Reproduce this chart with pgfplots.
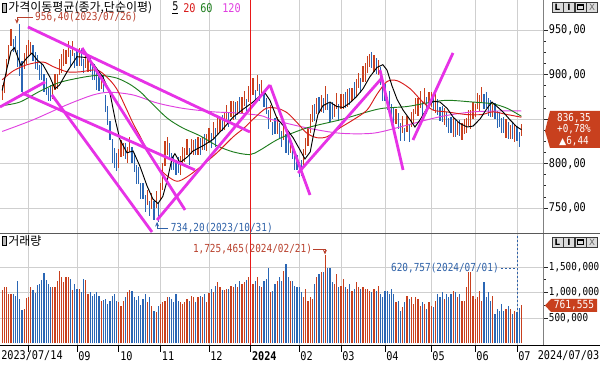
\documentclass[border=0pt]{standalone}
\usepackage{pgfplots}
\pgfplotsset{compat=1.18}
\usepackage{pgfplotstable}
\usepackage{fontspec}
\usetikzlibrary{arrows.meta}
\setmainfont{DejaVu Sans Mono}[FakeStretch=0.85]
\newfontfamily\kr{Noto Sans CJK KR}
\newfontfamily\dv{DejaVu Sans}
\definecolor{upred}{HTML}{C8401E}
\definecolor{dnblue}{HTML}{2A66B4}
\definecolor{mag}{HTML}{E632E6}
\definecolor{maA}{HTML}{D81C1C}
\definecolor{maB}{HTML}{1E7D1E}
\definecolor{maC}{HTML}{E040E0}
\definecolor{anred}{HTML}{B8402C}
\definecolor{anblue}{HTML}{2F62A8}
\definecolor{gridc}{HTML}{CFCFCF}
\definecolor{boxred}{HTML}{C8401E}
\definecolor{yrline}{HTML}{E81818}
\newcommand\annfont{\fontsize{8.3}{9}\selectfont}

\pgfplotstableread{
i c a b u v
0 878 7 10 1 1047
1 890 11 6 1 1110
2 905 6 12 1 1100
3 925 13 8 1 980
4 940 8 11 1 970
5 935 10 5 0 970
6 930 5 13 0 940
7 920 12 7 0 1230
8 912 14 44.4 0 870
9 895 15 20 0 655
10 912 6 12 1 675
11 925 13 8 1 890
12 928 8 11 1 910
13 932 10 5 1 1110
14 920 5 13 0 1050
15 918 12 7 0 985
16 912 7 10 0 1150
17 905 11 6 0 1160
18 900 6 12 0 1245
19 893 13 8 0 1380
20 885 8 11 0 1245
21 880 10 5 0 1165
22 875 5 13 0 1100
23 885 12 7 1 1100
24 890 7 10 1 1100
25 895 11 6 1 1230
26 905 6 12 1 1430
27 915 13 8 1 1300
28 918 8 11 1 1200
29 922 10 5 1 1300
30 925 5 13 1 1300
31 920 12 7 0 1265
32 928 7 10 1 1047
33 918 11 6 0 1165
34 915 6 12 0 1070
35 922 13 8 1 1070
36 918 8 11 0 1000
37 912 10 5 0 1260
38 912 5 13 1 1245
39 915 12 7 1 980
40 910 7 10 0 1000
41 905 11 6 0 940
42 900 6 12 0 970
43 896 13 8 0 1000
44 890 8 11 0 940
45 894 10 5 1 840
46 885 5 13 0 850
47 870 12 7 0 870
48 855 12 10 0 775
49 840 14 8 0 840
50 815 15 12 0 940
51 805 10 12 0 970
52 800 8 12 0 840
53 808 13 8 1 810
54 815 8 11 1 740
55 818 10 5 1 840
56 810 5 13 0 920
57 812 12 7 1 1000
58 820 7 10 1 1050
59 812 11 6 0 1025
60 800 10 12 0 905
61 790 13 8 0 850
62 785 8 11 0 940
63 770 10 8 0 760
64 765 5 13 0 870
65 758 12 7 0 970
66 760 7 10 1 810
67 752 11 6 0 920
68 755 6 12 1 740
69 750 13 8 0 630
70 758 8 11 1 610
71 748 13.8 8 0 740
72 765 6 13 1 775
73 790 20 10 1 810
74 815 18 10 1 840
75 822 12 8 1 905
76 810 5 13 0 920
77 805 12 7 0 870
78 800 7 10 0 810
79 798 11 6 0 970
80 795 6 12 0 840
81 800 13 8 1 810
82 808 8 11 1 775
83 812 10 5 1 810
84 815 5 13 1 870
85 810 12 7 0 840
86 818 7 10 1 940
87 820 11 6 1 905
88 815 6 12 0 810
89 822 13 8 1 905
90 818 8 11 0 940
91 825 10 5 1 920
92 820 5 13 0 970
93 826 12 7 1 810
94 830 7 10 1 985
95 828 11 6 0 1070
96 835 6 12 1 1000
97 832 13 8 0 1130
98 840 8 11 1 1200
99 845 10 5 1 1100
100 842 5 13 0 1040
101 850 12 7 1 1047
102 856 7 10 1 1070
103 852 11 6 0 1070
104 858 6 12 1 1130
105 862 13 8 1 1110
106 858 8 11 0 1165
107 865 10 5 1 1100
108 862 5 13 0 1230
109 868 12 7 1 1165
110 872 7 10 1 1200
111 866 11 6 0 1245
112 875 6 12 1 1300
113 880 13 8 1 1265
114 885 8 11 1 1165
115 878 10 5 0 1230
116 886 5 13 1 1300
117 882 12 7 0 1130
118 884 7 10 1 1100
119 875 11 6 0 1230
120 862 6 12 0 1265
121 852 13 8 0 1490
122 855 8 11 1 1000
123 842 10 5 0 1035
124 838 5 13 0 1165
125 845 12 7 1 1230
126 835 7 10 0 1300
127 830 11 6 0 1230
128 832 6 12 1 1430
129 825 13 8 0 1560
130 818 8 11 0 1300
131 822 10 5 1 1230
132 810 5 13 0 1230
133 805 12 7 0 1130
134 800 7 10 0 1100
135 796 11 6 0 1100
136 792 6 12 0 1000
137 808 13 8 1 905
138 818 8 11 1 1070
139 835 15 6 1 840
140 848 14 8 1 905
141 860 13 6 1 870
142 856 8 11 0 1165
143 866 10 8 1 1300
144 862 5 13 0 1360
145 870 12 7 1 1395
146 864 7 10 0 1400
147 872 12 15 1 1725.465
148 866 6 12 0 1490
149 860 13 8 0 1490
150 858 8 11 0 1200
151 862 10 5 1 1165
152 866 5 13 1 1365
153 860 12 7 0 1100
154 868 7 10 1 1130
155 872 11 6 1 1265
156 868 6 12 0 1100
157 876 13 8 1 1070
158 874 8 11 0 1165
159 880 10 5 1 1035
160 878 5 13 0 1070
161 888 12 7 1 1200
162 892 7 10 1 1100
163 890 11 6 0 1070
164 898 6 12 1 1100
165 905 13 8 1 1070
166 910 8 11 1 1070
167 918 10 5 1 1035
168 912 5 13 0 1000
169 915 12 7 1 1070
170 908 7 10 0 1035
171 910 11 6 1 1130
172 900 12 8 0 970
173 885 15 10 0 905
174 878 8 11 0 1035
175 870 10 5 0 1035
176 868 5 13 0 970
177 860 12 7 0 1070
178 852 7 10 0 970
179 855 11 6 1 810
180 845 6 12 0 840
181 838 13 8 0 640
182 842 8 11 1 710
183 835 10 5 0 810
184 840 5 13 1 940
185 836 12 7 0 870
186 848 7 10 1 905
187 855 11 6 1 775
188 862 6 12 1 905
189 866 13 8 1 870
190 870 8 11 1 740
191 865 10 5 0 810
192 872 5 13 1 775
193 868 12 7 0 680
194 870 7 10 1 810
195 874 11 6 1 740
196 866 6 12 0 710
197 870 13 8 1 840
198 862 8 11 0 970
199 858 10 5 0 905
200 852 5 13 0 1000
201 855 12 7 1 870
202 848 7 10 0 970
203 845 11 6 0 905
204 840 6 12 0 970
205 843 13 8 1 1035
206 838 8 11 0 1000
207 842 10 5 1 905
208 836 5 13 0 970
209 838 12 7 1 840
210 840 7 10 1 840
211 845 11 6 1 1100
212 848 6 12 1 1395
213 852 13 8 1 1400
214 858 8 11 1 940
215 862 10 5 1 870
216 866 5 13 1 905
217 870 12 7 1 1035
218 876 7 10 1 840
219 872 11 6 0 1200
220 868 6 12 0 905
221 866 13 8 0 1000
222 860 8 11 0 840
223 862 10 5 1 940
224 855 5 13 0 580
225 852 12 7 0 675
226 848 7 10 0 640
227 845 11 6 0 775
228 840 6 12 0 640
229 842 13 8 1 675
230 836 8 11 0 740
231 838 10 5 1 675
232 832 5 13 0 580
233 836 12 7 1 640
234 832 7 10 0 620.757
235 829.91 11 6 0 700
236 836.35 6 8 1 761.555
}\pdata

\pgfplotsset{hts/.style={
  scale only axis, width=407.25pt, xmin=-1, xmax=245.8,
  axis line style={draw=none},
  xtick={12,34,53,72,94,135,154,174,195,215,234}, xticklabels={},
  xtick style={draw=none},
  xmajorgrids, ymajorgrids, major grid style={gridc, line width=0.6pt},
  ytick pos=right, yticklabel pos=right, tick align=outside,
  major tick length=3.75pt, minor tick length=2.2pt,
  ytick style={black!85, line width=0.5pt},
  clip mode=individual}}

\begin{document}
\begin{tikzpicture}
% ---------------- price panel
\begin{axis}[hts, at={(0pt,99.75pt)}, anchor=south west, height=174.75pt,
  ymin=721.9, ymax=983.7,
  ytick={750,800,850,900,950},
  yticklabels={{750,00},{800,00},{},{900,00},{950,00}},
  minor y tick num=3,
  yticklabel style={font=\fontsize{9}{10}\selectfont, inner sep=0.5pt}]
% candles (high-low bars)
\addplot[draw=none, mark=none, forget plot,
  restrict expr to domain={\thisrow{u}}{1:1},
  error bars/.cd, y dir=both, y explicit, error mark=none,
  error bar style={draw=upred, line width=0.95pt}]
  table[x=i, y=c, y error plus=b, y error minus=a]{\pdata};
\addplot[draw=none, mark=none, forget plot,
  restrict expr to domain={\thisrow{u}}{0:0},
  error bars/.cd, y dir=both, y explicit, error mark=none,
  error bar style={draw=dnblue, line width=0.95pt}]
  table[x=i, y=c, y error plus=b, y error minus=a]{\pdata};
% MA120
\addplot[maC, line width=0.7pt, smooth, tension=0.5] coordinates {
(0,836)(14,849)(29.5,866)(41.3,877)(49,880)(59.5,877)(70.4,868)(82,862)(96,858)(105,857)(117.2,854)(123,849)(138.5,840)(153.5,834)(168.5,834)(180.8,841)(193,849)(202,854)(214,858)(226,859)(236,859)};
% MA60
\addplot[maB, line width=0.7pt, smooth, tension=0.5] coordinates {
(0,865)(8,869)(17,881)(26,891)(37,897)(44.5,899)(52,896)(58,889)(63,880)(67,870)(75,851)(82,840)(90,831)(97.6,820)(105,813)(112.6,810)(117.2,815)(126,828)(138.5,840)(153.5,849)(166,858)(173,862)(184,864)(193,868)(202,871)(214,869)(223,867)(229.5,862)(236,853)};
% MA20
\addplot[maA, line width=0.7pt, smooth, tension=0.5] coordinates {
(0,894)(5,904)(11.3,911)(18.5,914)(23,909)(29.5,903)(35.4,903)(43,905)(47.6,897)(52,884)(56.7,860)(59.5,845)(63,829)(65.8,815)(70.4,797)(75,786)(79.5,780)(84,785)(90,796)(97.6,812)(105,830)(110,840)(115,852)(120,862)(125,862)(129.5,857)(134,846)(138.5,834)(143,829)(147.6,830)(153.5,840)(159.5,849)(165.8,860)(170.4,878)(174.9,892)(179.5,893)(185.4,884)(190.8,870)(195.8,860)(202,858)(211,855)(218,855)(223,858)(229.5,855)(236,852)};
% MA5
\addplot[black, line width=0.7pt] coordinates {
(0,882)(2,905)(4,926)(5.5,930)(7,920)(8.5,910)(11,918)(13.5,924)(16,916)(18.5,911)(21.7,897)(24,884)(26,888)(29.5,903)(34,920)(38.5,919)(42,910)(45.8,897)(49,879)(51.3,850)(53.5,827)(56.7,812)(59.5,814)(62.6,797)(65.8,775)(68.5,760)(70.8,755)(73,763)(75,781)(77.2,806)(78.5,811)(80.8,801)(84,807)(86.7,814)(91.3,820)(95.8,827)(100.4,839)(104.9,852)(109.5,861)(114,869)(117.2,876)(119.5,879)(121.7,871)(125,850)(129.5,838)(132.2,829)(135.4,815)(137.6,805)(140,813)(141.3,830)(143.5,855)(145.8,865)(149,869)(152,864)(155,863)(158,868)(161,875)(164,884)(167,897)(170.4,908)(173,911)(174.9,905)(177.2,887)(179.5,872)(182.2,860)(185.4,849)(187.6,841)(189.9,849)(193.1,862)(195.8,870)(199,869)(202.2,862)(205,852)(208,845)(211.3,841)(214,842)(217.2,850)(220.4,862)(222.6,869)(224.9,864)(227.6,858)(230.8,849)(234,841)(236,838)};
% trend lines
\addplot[mag, line width=2.1pt] coordinates {(11.7,953.4)(112.6,835.4)};
\addplot[mag, line width=2.1pt] coordinates {(36.3,929.8)(83.1,747.8)};
\addplot[mag, line width=2.1pt] coordinates {(22.6,877)(68.1,723)};
\addplot[mag, line width=2.1pt] coordinates {(9,879.2)(87.6,792.7)};
\addplot[mag, line width=2.1pt] coordinates {(-1,863.5)(19.5,891.6)};
\addplot[mag, line width=2.1pt] coordinates {(70.4,736.5)(121.7,888.2)};
\addplot[mag, line width=2.1pt] coordinates {(121.7,888.2)(139.9,764.6)};
\addplot[mag, line width=2.1pt] coordinates {(134.5,789.3)(172.6,896.1)};
\addplot[mag, line width=2.1pt] coordinates {(171.7,905.1)(182.2,792.7)};
\addplot[mag, line width=2.1pt] coordinates {(186.7,826.4)(204.9,924.2)};
% 2024 line
\addplot[yrline, line width=0.85pt, forget plot] coordinates {(112.8,721.9)(112.8,983.7)};
% annotations
\draw[anred, line width=0.6pt, -{Stealth[length=3.5pt,width=3pt]}] (axis cs:14,964.6) -- (axis cs:6.7,964.6) -- (axis cs:6.7,957);
\node[anchor=west, inner sep=0, text=anred, font=\annfont] at (axis cs:14.9,964.6) {956,40(2023/07/26)};
\draw[anblue, line width=0.6pt, -{Stealth[length=3.5pt,width=3pt]}] (axis cs:75.4,727.5) -- (axis cs:70.4,727.5) -- (axis cs:70.4,734.4);
\node[anchor=west, inner sep=0, text=anblue, font=\annfont] at (axis cs:76.5,727.5) {734,20(2023/10/31)};
\end{axis}
% ---------------- volume panel
\begin{axis}[hts, at={(0pt,15pt)}, anchor=south west, height=84pt,
  ymin=-49, ymax=2147,
  ytick={500,1000,1500},
  yticklabels={{500,000},{1,000,000},{1,500,000}},
  minor y tick num=1,
  yticklabel style={font=\fontsize{8.2}{9}\selectfont, inner sep=0.5pt}]
\addplot[ycomb, upred, line width=0.95pt, mark=none, forget plot,
  restrict expr to domain={\thisrow{u}}{1:1}] table[x=i, y=v]{\pdata};
\addplot[ycomb, dnblue, line width=0.95pt, mark=none, forget plot,
  restrict expr to domain={\thisrow{u}}{0:0}] table[x=i, y=v]{\pdata};
\addplot[yrline, line width=0.85pt, forget plot] coordinates {(112.8,-49)(112.8,2147)};
\draw[anred, line width=0.6pt, -{Stealth[length=3.5pt,width=3pt]}] (axis cs:141.3,1853) -- (axis cs:146.7,1853) -- (axis cs:146.7,1745);
\node[anchor=east, inner sep=0, text=anred, font=\annfont] at (axis cs:140.9,1853) {1,725,465(2024/02/21)};
\draw[anblue, line width=0.6pt, dash pattern=on 1.5pt off 1.5pt] (axis cs:226.6,1480) -- (axis cs:234,1480);
\draw[anblue, line width=0.6pt, dash pattern=on 1.5pt off 1.5pt] (axis cs:234,2100) -- (axis cs:234,640);
\node[anchor=east, inner sep=0, text=anblue, font=\annfont] at (axis cs:225.8,1480) {620,757(2024/07/01)};
\end{axis}
% ---------------- frame, labels, decorations (pixel coordinates)
\begin{scope}[x=0.75pt, y=-0.75pt, yshift=274.5pt]
\draw[gray, line width=0.75pt] (543,0) -- (543,346);
\draw[black!65, line width=0.75pt] (0,234) -- (600,234);
\draw[black, line width=0.75pt] (0,346) -- (600,346);
\foreach \p in {28.6,77,118.8,160.6,209,250.8,299.2,341,385,431.2,475.2,517}
  {\draw[black, line width=0.6pt] (\p,346) -- (\p,352);}
\begin{scope}[every node/.style={anchor=west, inner sep=0, font=\fontsize{9}{10}\selectfont}]
\node at (1,356) {2023/07/14};
\node at (78,356) {09};
\node at (120,356) {10};
\node at (161.6,356) {11};
\node at (210,356) {12};
\node at (251.8,356) {\textbf{2024}};
\node at (300.2,356) {02};
\node at (342,356) {03};
\node at (386,356) {04};
\node at (432.2,356) {05};
\node at (476.2,356) {06};
\node at (518,356) {07};
\node[anchor=east] at (599.5,356) {2024/07/03};
\end{scope}
% headers
\draw[fill=gray!55, draw=black, line width=0.5pt] (2.5,3.5) rectangle (6.5,12.5);
\node[anchor=west, inner sep=0] at (8,8) {\kr\fontsize{9}{10}\selectfont 가격이동평균(종가,단순이평)};
\node[anchor=west, inner sep=0, font=\fontsize{9}{10}\selectfont] at (172,8) {\underline{5}};
\node[anchor=west, inner sep=0, font=\fontsize{9}{10}\selectfont, text=maA] at (183,8) {20};
\node[anchor=west, inner sep=0, font=\fontsize{9}{10}\selectfont, text=maB] at (200,8) {60};
\node[anchor=west, inner sep=0, font=\fontsize{9}{10}\selectfont, text=maC] at (222,8) {120};
\draw[fill=gray!55, draw=black, line width=0.5pt] (2.5,236.5) rectangle (6.5,245.5);
\node[anchor=west, inner sep=0] at (8,241) {\kr\fontsize{9}{10}\selectfont 거래량};
% buttons
\foreach \yy in {2,237}{
  \foreach \bx in {552,563.5,575,586.5}
    {\draw[fill=gray!28, draw=gray!45!black, line width=0.4pt] (\bx,\yy) rectangle ++(11,10);}
  \node[inner sep=0, font=\dv\bfseries\fontsize{6.5}{7}\selectfont] at (557.5,\yy+5) {L};
  \node[inner sep=0, font=\dv\bfseries\fontsize{6.5}{7}\selectfont] at (569,\yy+5) {I};
  \draw[black, line width=0.5pt] (577.5,\yy+2.5) rectangle (583.5,\yy+7.5);
  \draw[black, line width=1pt] (577.5,\yy+3) -- (583.5,\yy+3);
  \node[inner sep=0, font=\dv\fontsize{6.5}{7}\selectfont, text=black!60] at (592,\yy+5) {X};
}
% price box
\fill[boxred] (545,131) -- (550,111) -- (600,111) -- (600,148) -- (550,148) -- cycle;
\begin{scope}[every node/.style={inner sep=0, text=white, font=\fontsize{8.2}{9}\selectfont}]
\node at (574,118) {836,35};
\node at (574,129.5) {+0,78\%};
\node at (574,141) {{\dv\fontsize{7}{8}\selectfont ▲}6,44};
\end{scope}
% volume box
\fill[boxred] (545,305.5) -- (551,299) -- (597,299) -- (597,312) -- (551,312) -- cycle;
\node[inner sep=0, text=white, font=\fontsize{8.4}{9}\selectfont] at (574,305.5) {761,555};
\end{scope}
\pgfresetboundingbox
\path[use as bounding box] (0,0) rectangle (450pt,274.5pt);
\end{tikzpicture}
\end{document}
